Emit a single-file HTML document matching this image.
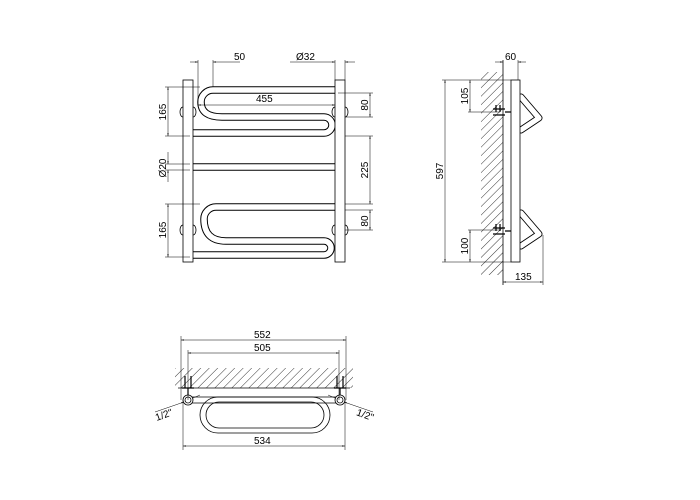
<!DOCTYPE html>
<html><head><style>
html,body{margin:0;padding:0;background:#fff}
svg{display:block}
text{font-family:"Liberation Sans",sans-serif;font-size:10px;fill:#000}
</style></head><body>
<svg width="700" height="500" viewBox="0 0 700 500">
<defs>
<pattern id="h" width="6" height="6" patternUnits="userSpaceOnUse" patternTransform="rotate(45)">
<line x1="0" y1="0" x2="0" y2="6" stroke="#000" stroke-width="0.8"/>
</pattern>
<marker id="a" viewBox="0 0 10 10" refX="10" refY="5" markerWidth="6" markerHeight="6" orient="auto-start-reverse"><path d="M0,3 L10,5 L0,7z" fill="#000"/></marker>
</defs>
<g fill="none" stroke="#000" stroke-width="0.8">
<!-- FRONT VIEW -->
<g stroke-linecap="round">
<path d="M338,90 H213 A12,12 0 0 0 201,102 Q201,117 222,117 H324 A8,8 0 0 1 324,133 H190" stroke="#000" stroke-width="7.5"/>
<path d="M338,90 H213 A12,12 0 0 0 201,102 Q201,117 222,117 H324 A8,8 0 0 1 324,133 H190" stroke="#fff" stroke-width="5.5"/>
<path d="M338,207 H216 A12,12 0 0 0 204,219 Q204,241 226,241 H324 A7,7 0 0 1 324,255 H190" stroke="#000" stroke-width="7.5"/>
<path d="M338,207 H216 A12,12 0 0 0 204,219 Q204,241 226,241 H324 A7,7 0 0 1 324,255 H190" stroke="#fff" stroke-width="5.5"/>
<line x1="190" y1="167" x2="338" y2="167" stroke="#000" stroke-width="7.5"/>
<line x1="190" y1="167" x2="338" y2="167" stroke="#fff" stroke-width="5.5"/>
</g>
<rect x="183" y="80" width="10" height="182" fill="#fff"/>
<rect x="335" y="80" width="10" height="182" fill="#fff"/>
<path d="M183,107 a3,5 0 0 0 0,10 M193,107 a3,5 0 0 1 0,10 M183,225 a3,5 0 0 0 0,10 M193,225 a3,5 0 0 1 0,10"/>
<path d="M335,107 a3,5 0 0 0 0,10 M345,107 a3,5 0 0 1 0,10 M335,225 a3,5 0 0 0 0,10 M345,225 a3,5 0 0 1 0,10"/>
<g stroke-width="0.5">
<line x1="198" y1="60" x2="198" y2="105"/><line x1="213" y1="60" x2="213" y2="87"/>
<line x1="190" y1="62" x2="198" y2="62" marker-end="url(#a)"/><line x1="240" y1="62" x2="213" y2="62" marker-end="url(#a)"/>
<line x1="335" y1="60" x2="335" y2="80"/><line x1="345" y1="60" x2="345" y2="80"/>
<line x1="290" y1="62" x2="335" y2="62" marker-end="url(#a)"/><line x1="355" y1="62" x2="345" y2="62" marker-end="url(#a)"/>
<line x1="198" y1="105" x2="335" y2="105" marker-start="url(#a)" marker-end="url(#a)"/>
<line x1="165" y1="87" x2="200" y2="87"/><line x1="165" y1="136" x2="190" y2="136"/>
<line x1="168" y1="87" x2="168" y2="136" marker-start="url(#a)" marker-end="url(#a)"/>
<line x1="165" y1="164" x2="190" y2="164"/><line x1="165" y1="170" x2="190" y2="170"/>
<line x1="168" y1="152" x2="168" y2="164" marker-end="url(#a)"/><line x1="168" y1="182" x2="168" y2="170" marker-end="url(#a)"/>
<line x1="165" y1="204" x2="200" y2="204"/><line x1="165" y1="257" x2="190" y2="257"/>
<line x1="168" y1="204" x2="168" y2="257" marker-start="url(#a)" marker-end="url(#a)"/>
<line x1="338" y1="93" x2="373" y2="93"/><line x1="345" y1="117" x2="373" y2="117"/>
<line x1="370" y1="93" x2="370" y2="117" marker-start="url(#a)" marker-end="url(#a)"/>
<line x1="345" y1="136" x2="373" y2="136"/><line x1="345" y1="204" x2="373" y2="204"/>
<line x1="370" y1="136" x2="370" y2="204" marker-start="url(#a)" marker-end="url(#a)"/>
<line x1="345" y1="210" x2="373" y2="210"/><line x1="345" y1="230" x2="373" y2="230"/>
<line x1="370" y1="210" x2="370" y2="230" marker-start="url(#a)" marker-end="url(#a)"/>
</g>
<!-- SIDE VIEW -->
<rect x="481" y="72" width="22" height="203" fill="url(#h)" stroke="none"/>
<line x1="503" y1="60" x2="503" y2="285"/>
<g stroke-linejoin="round" stroke-linecap="round">
<path d="M521,97 L539,118 L521,130" stroke="#000" stroke-width="7"/>
<path d="M521,97 L539,118 L521,130" stroke="#fff" stroke-width="5.2"/>
<path d="M521,213 L539,234 L521,246" stroke="#000" stroke-width="7"/>
<path d="M521,213 L539,234 L521,246" stroke="#fff" stroke-width="5.2"/>
</g>
<rect x="511" y="80" width="9" height="182" fill="#fff"/>
<g stroke-width="1.2"><path d="M493,109 H505 M493,115 H505 M496,105 V112 M500,105 V112 M505,112 H511"/>
<path d="M493,228 H505 M493,234 H505 M496,224 V231 M500,224 V231 M505,231 H511"/></g>
<g stroke-width="0.5">
<line x1="518" y1="60" x2="518" y2="80"/>
<line x1="495" y1="62" x2="503" y2="62" marker-end="url(#a)"/><line x1="526" y1="62" x2="518" y2="62" marker-end="url(#a)"/>
<line x1="442" y1="80" x2="511" y2="80"/><line x1="442" y1="262" x2="511" y2="262"/>
<line x1="445" y1="80" x2="445" y2="262" marker-start="url(#a)" marker-end="url(#a)"/>
<line x1="468" y1="112" x2="500" y2="112"/><line x1="468" y1="230" x2="500" y2="230"/>
<line x1="470" y1="80" x2="470" y2="112" marker-start="url(#a)" marker-end="url(#a)"/>
<line x1="470" y1="230" x2="470" y2="262" marker-start="url(#a)" marker-end="url(#a)"/>
<line x1="543" y1="235" x2="543" y2="285"/>
<line x1="503" y1="282" x2="543" y2="282" marker-start="url(#a)" marker-end="url(#a)"/>
</g>
<!-- TOP VIEW -->
<rect x="175" y="368" width="178" height="20" fill="url(#h)" stroke="none"/>
<line x1="178" y1="388" x2="350" y2="388"/>
<rect x="200" y="397" width="130" height="36" rx="18" stroke="#000" stroke-width="0.8"/>
<rect x="206" y="402" width="118" height="26" rx="13"/>
<line x1="192" y1="397" x2="336" y2="397"/><line x1="192" y1="403" x2="336" y2="403"/>
<circle cx="188" cy="400" r="5" fill="#fff"/><circle cx="188" cy="400" r="3"/>
<circle cx="340" cy="400" r="5" fill="#fff"/><circle cx="340" cy="400" r="3"/>
<g stroke-width="1.2"><path d="M185,376 V388 M191,376 V388 M188,388 V395 M182,388 H194"/>
<path d="M337,376 V388 M343,376 V388 M340,388 V395 M334,388 H346"/></g>
<g stroke-width="0.5">
<line x1="181" y1="336" x2="181" y2="400"/><line x1="346" y1="336" x2="346" y2="400"/>
<line x1="181" y1="340" x2="346" y2="340" marker-start="url(#a)" marker-end="url(#a)"/>
<line x1="188" y1="350" x2="188" y2="400"/><line x1="339" y1="350" x2="339" y2="400"/>
<line x1="188" y1="353" x2="339" y2="353" marker-start="url(#a)" marker-end="url(#a)"/>
<line x1="183" y1="400" x2="183" y2="450"/><line x1="345" y1="400" x2="345" y2="450"/>
<line x1="183" y1="446" x2="345" y2="446" marker-start="url(#a)" marker-end="url(#a)"/>
<line x1="155" y1="412" x2="184" y2="402" marker-end="url(#a)"/>
<line x1="200" y1="395" x2="193" y2="398"/>
<line x1="373" y1="412" x2="344" y2="402" marker-end="url(#a)"/>
<line x1="328" y1="395" x2="335" y2="398"/>
</g>
</g>
<text x="234" y="60">50</text>
<text x="296" y="60">Ø32</text>
<text x="256" y="102">455</text>
<text transform="translate(166,112) rotate(-90)" text-anchor="middle">165</text>
<text transform="translate(166,168) rotate(-90)" text-anchor="middle">Ø20</text>
<text transform="translate(166,230) rotate(-90)" text-anchor="middle">165</text>
<text transform="translate(368,105) rotate(-90)" text-anchor="middle">80</text>
<text transform="translate(368,170) rotate(-90)" text-anchor="middle">225</text>
<text transform="translate(368,221) rotate(-90)" text-anchor="middle">80</text>
<text x="505" y="60">60</text>
<text transform="translate(443,171) rotate(-90)" text-anchor="middle">597</text>
<text transform="translate(468,96) rotate(-90)" text-anchor="middle">105</text>
<text transform="translate(468,246) rotate(-90)" text-anchor="middle">100</text>
<text x="515" y="280">135</text>
<text x="254" y="338">552</text>
<text x="254" y="351">505</text>
<text x="254" y="444">534</text>
<text transform="translate(165,418) rotate(-20)" text-anchor="middle">1/2"</text>
<text transform="translate(364,418) rotate(20)" text-anchor="middle">1/2"</text>
</svg>
</body></html>
